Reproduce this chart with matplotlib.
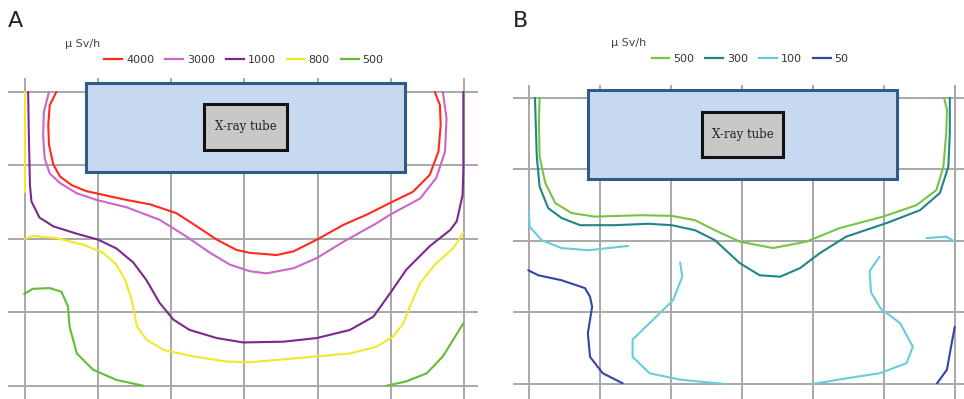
import matplotlib as mpl
mpl.use('Agg')
import matplotlib.pyplot as plt
from matplotlib.patches import Rectangle
from matplotlib.lines import Line2D

# grid units: 10 = one grid square, y grows downward
grid_x = [0, 10, 20, 30, 40, 50, 60]
grid_y = [0, 10, 20, 30, 40]

# ---- panel A : iso-dose lines (uSv/h) ----
a_4000_x = [4.3, 3.4, 3.2, 3.3, 3.9, 4.8, 6.4, 8.4, 10.2, 13.9, 17.1, 20.7, 23.5, 26.2, 28.9, 30.7, 34.4, 36.7,
            39.9, 43.5, 46.7, 49.9, 53.0, 55.3, 56.5, 56.8, 56.7, 56.0]
a_4000_y = [0, 1.8, 4.5, 7.2, 9.9, 11.5, 12.7, 13.5, 13.9, 14.7, 15.3, 16.5, 18.3, 20.1, 21.5, 21.9, 22.2, 21.7,
            20.1, 18.1, 16.7, 15.1, 13.6, 11.3, 8.1, 4.5, 1.8, 0]

a_3000_x = [3.3, 2.6, 2.5, 2.7, 3.4, 4.8, 7.1, 9.8, 13.9, 18.4, 22.1, 25.3, 28.0, 30.7, 33.0, 36.7, 39.9, 43.5,
            48.0, 49.9, 54.0, 56.2, 57.4, 57.6, 57.1]
a_3000_y = [0, 2.7, 5.9, 9.0, 11.1, 12.4, 13.8, 14.7, 15.7, 17.4, 19.7, 21.9, 23.5, 24.4, 24.7, 24.0, 22.6, 20.4,
            17.9, 16.7, 14.5, 11.7, 8.1, 3.6, 0]

a_1000_x = [0.45, 0.55, 0.7, 0.9, 2.0, 3.9, 7.1, 10.0, 12.5, 14.8, 16.6, 18.4, 20.3, 22.5, 26.2, 29.8, 35.3, 39.9,
            44.4, 47.6, 49.9, 52.1, 55.3, 58.1, 59.0, 59.8, 59.9, 59.9]
a_1000_y = [0, 5.9, 12.7, 14.9, 17.1, 18.3, 19.3, 20.1, 21.3, 23.2, 25.6, 28.7, 31.0, 32.4, 33.5, 34.1, 34.0, 33.5,
            32.4, 30.6, 27.4, 24.2, 21.0, 18.8, 17.6, 14.0, 10.4, 0]

a_800a_x = [0, 0]
a_800a_y = [0, 13.6]
a_800_x = [0, 1.1, 4.3, 8.0, 10.7, 12.5, 13.7, 14.6, 15.3, 16.6, 18.9, 23.0, 27.6, 30.7, 37.6, 44.4, 48.0, 50.3,
           51.7, 52.6, 54.0, 56.2, 58.5, 59.9]
a_800_y = [20.0, 19.6, 19.9, 20.8, 21.9, 23.5, 25.6, 28.3, 31.9, 33.7, 35.1, 36.0, 36.7, 36.8, 36.2, 35.6, 34.7, 33.3,
           31.5, 29.2, 26.0, 23.3, 21.3, 19.2]

a_500l_x = [-0.1, 1.1, 3.4, 5.0, 5.9, 6.1, 7.1, 9.3, 12.5, 16.2]
a_500l_y = [27.5, 26.8, 26.7, 27.2, 29.2, 31.9, 35.6, 37.8, 39.2, 40.0]
a_500r_x = [49.4, 52.1, 54.9, 57.1, 59.9]
a_500r_y = [40.0, 39.4, 38.3, 36.0, 31.5]

# ---- panel B ----
b_500_x = [1.5, 1.4, 1.5, 2.3, 3.7, 6.0, 9.3, 15.9, 20.1, 23.4, 26.2, 29.7, 34.4, 39.1, 43.8, 49.9, 54.6, 57.4,
           58.4, 58.8, 58.9, 58.5]
b_500_y = [0, 3.5, 8.2, 11.9, 14.7, 16.1, 16.6, 16.4, 16.5, 17.1, 18.5, 20.1, 21.0, 20.1, 18.2, 16.6, 15.0, 12.9,
           9.6, 4.9, 1.7, 0]

b_300_x = [0.85, 0.95, 1.1, 1.5, 2.7, 4.6, 7.2, 12.1, 16.8, 20.1, 23.4, 26.2, 29.7, 32.5, 35.4, 38.2, 41.0, 44.7,
           50.4, 55.1, 57.9, 59.1, 59.3, 59.3]
b_300_y = [0, 3.5, 8.2, 12.4, 15.4, 16.8, 17.8, 17.8, 17.6, 17.8, 18.5, 19.9, 23.1, 24.8, 25.0, 23.8, 21.7, 19.4,
           17.5, 15.7, 13.3, 9.6, 4.9, 0]

b_100a_x = [0, 0.1, 1.8, 4.6, 8.4, 14.0]
b_100a_y = [15.9, 18.0, 19.9, 21.0, 21.3, 20.7]
b_100b_x = [56.0, 58.8, 60.0]
b_100b_y = [19.6, 19.4, 20.1]
b_100c_x = [21.3, 21.6, 20.3, 17.5, 14.6, 14.6, 17.0, 21.3, 27.6]
b_100c_y = [23.0, 25.0, 28.3, 31.0, 33.8, 36.2, 38.5, 39.4, 40.0]
b_100d_x = [49.4, 48.0, 48.2, 49.6, 52.3, 54.1, 53.2, 49.4, 44.8, 40.0]
b_100d_y = [22.2, 24.2, 27.2, 29.5, 31.5, 34.8, 37.1, 38.5, 39.2, 40.0]

b_50l_x = [-0.1, 1.3, 4.6, 7.9, 8.6, 8.9, 8.3, 8.6, 10.4, 13.2]
b_50l_y = [24.1, 24.8, 25.5, 26.6, 27.8, 29.2, 32.9, 36.2, 38.5, 39.9]
b_50r_x = [57.5, 58.9, 59.4, 60.0]
b_50r_y = [39.9, 38.0, 35.2, 32.0]

a_labels = ['4000', '3000', '1000', '800', '500']
a_colors = ['#ff2a1a', '#cc66c4', '#7a2a8c', '#f2e82a', '#66bb33']
b_labels = ['500', '300', '100', '50']
b_colors = ['#77c444', '#1f8585', '#66ccde', '#3344a8']

fig = plt.figure(figsize=(9.64, 3.99), dpi=100)
W, H = 964, 399


def make_ax(x0, y0, x1, y1, xlim, ylim):
    ax = fig.add_axes([x0 / W, 1 - y1 / H, (x1 - x0) / W, (y1 - y0) / H])
    ax.set_xlim(*xlim)
    ax.set_ylim(*ylim)
    ax.axis('off')
    for g in grid_x:
        ax.axvline(g, color='#a8a8a8', lw=1.4, zorder=1)
    for g in grid_y:
        ax.axhline(g, color='#a8a8a8', lw=1.4, zorder=1)
    return ax


def tube(ax, outer, inner):
    ax.add_patch(Rectangle((outer[0], outer[1]), outer[2] - outer[0], outer[3] - outer[1],
                           facecolor='#c6d9f0', edgecolor='#2f5b8a', lw=2.2, zorder=3))
    ax.add_patch(Rectangle((inner[0], inner[1]), inner[2] - inner[0], inner[3] - inner[1],
                           facecolor='#c8c8c8', edgecolor='#111111', lw=2.2, zorder=4))
    ax.text((inner[0] + inner[2]) / 2, (inner[1] + inner[3]) / 2, 'X-ray tube',
            ha='center', va='center', fontsize=8.5, family='DejaVu Serif', color='#222222', zorder=5)


style = dict(lw=1.5, zorder=2, solid_joinstyle='round', solid_capstyle='round')

# panel A
ax1 = make_ax(8, 78, 478, 399, (-2.3, 61.9), (41.8, -1.9))
ax1.plot(a_4000_x, a_4000_y, color=a_colors[0], **style)
ax1.plot(a_3000_x, a_3000_y, color=a_colors[1], **style)
ax1.plot(a_1000_x, a_1000_y, color=a_colors[2], **style)
ax1.plot(a_800a_x, a_800a_y, color=a_colors[3], **style)
ax1.plot(a_800_x, a_800_y, color=a_colors[3], **style)
ax1.plot(a_500l_x, a_500l_y, color=a_colors[4], **style)
ax1.plot(a_500r_x, a_500r_y, color=a_colors[4], **style)
tube(ax1, (8.3, -1.2, 51.9, 10.9), (24.5, 1.6, 35.8, 7.9))

# panel B
ax2 = make_ax(513, 85, 964, 399, (-2.25, 61.3), (42.1, -1.8))
ax2.plot(b_500_x, b_500_y, color=b_colors[0], **style)
ax2.plot(b_300_x, b_300_y, color=b_colors[1], **style)
ax2.plot(b_100a_x, b_100a_y, color=b_colors[2], **style)
ax2.plot(b_100b_x, b_100b_y, color=b_colors[2], **style)
ax2.plot(b_100c_x, b_100c_y, color=b_colors[2], **style)
ax2.plot(b_100d_x, b_100d_y, color=b_colors[2], **style)
ax2.plot(b_50l_x, b_50l_y, color=b_colors[3], **style)
ax2.plot(b_50r_x, b_50r_y, color=b_colors[3], **style)
tube(ax2, (8.3, -1.1, 51.8, 11.3), (24.4, 2.0, 35.8, 8.3))

# legends
def add_legend(labels, colors, cx, cy):
    handles = [Line2D([], [], color=c, lw=1.6) for c in colors]
    fig.legend(handles, labels, loc='center', bbox_to_anchor=(cx / W, 1 - cy / H),
               ncol=len(labels), frameon=False, fontsize=8, handlelength=1.6,
               handletextpad=0.35, columnspacing=1.0, labelcolor='#333333')

add_legend(a_labels, a_colors, 244, 60)
add_legend(b_labels, b_colors, 750, 59)

fig.text(65 / W, 1 - 44 / H, 'μ Sv/h', fontsize=8, color='#444444', va='center')
fig.text(611 / W, 1 - 43 / H, 'μ Sv/h', fontsize=8, color='#444444', va='center')

fig.text(8 / W, 1 - 21 / H, 'A', fontsize=16, color='#222222', va='center')
fig.text(513 / W, 1 - 21 / H, 'B', fontsize=16, color='#222222', va='center')

fig.savefig('out.png', dpi=100)
